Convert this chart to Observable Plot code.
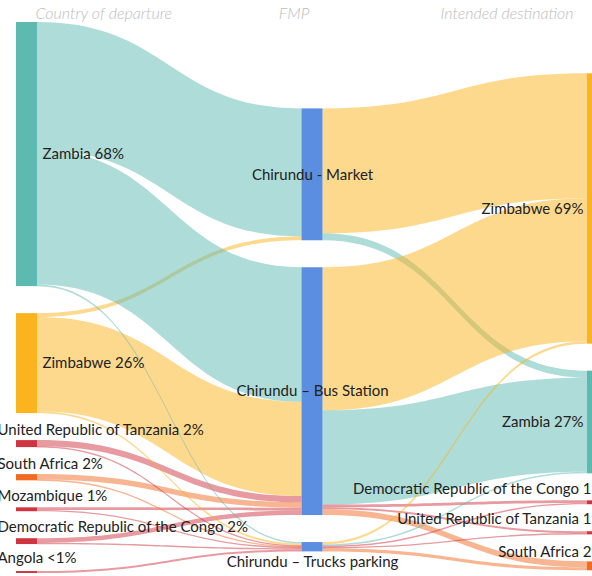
<!DOCTYPE html>
<html>
<head>
<meta charset="utf-8">
<script src="https://cdn.jsdelivr.net/npm/d3@7"></script>
<script src="https://cdn.jsdelivr.net/npm/@observablehq/plot@0.6"></script>
<style>
  html, body { margin: 0; padding: 0; background: #fff; }
  #chart { width: 592px; height: 576px; overflow: hidden; }
</style>
</head>
<body>
<div id="chart"></div>
<script>
// ---------- DATA ----------
const columnTitles = ["Country of departure", "FMP", "Intended destination"];

const departure = ["Zambia", "Zimbabwe", "United Republic of Tanzania", "South Africa", "Mozambique", "Democratic Republic of the Congo", "Angola"];
const departureLabels = ["Zambia 68%", "Zimbabwe 26%", "United Republic of Tanzania 2%", "South Africa 2%", "Mozambique 1%", "Democratic Republic of the Congo 2%", "Angola <1%"];

const fmp = ["Chirundu - Market", "Chirundu – Bus Station", "Chirundu – Trucks parking"];

const destination = ["Zimbabwe", "Zambia", "Democratic Republic of the Congo", "United Republic of Tanzania", "South Africa"];
const destinationLabels = ["Zimbabwe 69%", "Zambia 27%", "Democratic Republic of the Congo 1%", "United Republic of Tanzania 1%", "South Africa 2%"];

// flows (% of respondents) from each country of departure to each FMP
const toMarket = [32.9, 1.0, 0, 0, 0, 0, 0];
const toBusStation = [34.6, 24.2, 1.6, 1.4, 0.7, 1.2, 0];
const toTrucksParking = [0.4, 0.5, 0.2, 0.2, 0.3, 0.3, 0.5];

// flows (%) from each FMP to each intended destination
const fromMarket = [32.1, 1.8, 0, 0, 0];
const fromBusStation = [36.8, 24.2, 0.7, 0.5, 1.5];
const fromTrucksParking = [0.6, 0.4, 0.3, 0.3, 0.8];

// ---------- STYLE ----------
const countries = ["Zambia", "Zimbabwe", "United Republic of Tanzania", "South Africa", "Mozambique", "Democratic Republic of the Congo", "Angola"];
const countryColors = ["#5dbab1", "#fbb41d", "#cf3540", "#f26b23", "#cf3540", "#cf3540", "#cf3540"];
const fmpColor = "#5b8ee0";
const W = 592, H = 576;
const ext = {x0: 16, x1: 608, y0: 22, y1: 573, nodeWidth: 21, padding: 27};
const columnAlign = [0, 0.8, 0.95]; // share of a column's free space placed above it
const minRibbon = 1.4;               // thinnest ribbon drawn, px

// ---------- BUILD GRAPH ----------
const nodes = [];
departure.forEach((n, i) => nodes.push({id: "d" + i, name: n, label: departureLabels[i], layer: 0, country: n}));
fmp.forEach((n, i) => nodes.push({id: "f" + i, name: n, label: n, layer: 1, country: null}));
destination.forEach((n, i) => nodes.push({id: "t" + i, name: n, label: destinationLabels[i], layer: 2, country: n}));
const byId = new Map(nodes.map(n => [n.id, n]));

const links = [];
[toMarket, toBusStation, toTrucksParking].forEach((arr, j) =>
  arr.forEach((v, i) => { if (v > 0) links.push({source: byId.get("d" + i), target: byId.get("f" + j), value: v, country: departure[i]}); }));
[fromMarket, fromBusStation, fromTrucksParking].forEach((arr, j) =>
  arr.forEach((v, i) => { if (v > 0) links.push({source: byId.get("f" + j), target: byId.get("t" + i), value: v, country: destination[i]}); }));
links.forEach((l, i) => l.id = i);

// ---------- SANKEY LAYOUT ----------
function layout(nodes, links, {x0, x1, y0, y1, nodeWidth, padding}, align) {
  for (const n of nodes) { n.sourceLinks = []; n.targetLinks = []; }
  for (const l of links) { l.source.sourceLinks.push(l); l.target.targetLinks.push(l); }
  for (const n of nodes) n.value = Math.max(d3.sum(n.sourceLinks, l => l.value), d3.sum(n.targetLinks, l => l.value));
  const nLayers = d3.max(nodes, n => n.layer) + 1;
  const kx = (x1 - x0 - nodeWidth) / (nLayers - 1);
  const columns = d3.range(nLayers).map(() => []);
  for (const n of nodes) { n.x0 = x0 + n.layer * kx; n.x1 = n.x0 + nodeWidth; columns[n.layer].push(n); }
  const ky = d3.min(columns, c => (y1 - y0 - (c.length - 1) * padding) / d3.sum(c, n => n.value));
  columns.forEach((col, k) => {
    const used = d3.sum(col, n => n.value) * ky + (col.length - 1) * padding;
    let y = y0 + (y1 - y0 - used) * align[k];
    for (const n of col) { n.y0 = y; n.y1 = y + n.value * ky; y = n.y1 + padding; }
  });
  for (const l of links) l.width = l.value * ky;
  for (const n of nodes) {
    n.sourceLinks.sort((a, b) => a.target.y0 - b.target.y0);
    n.targetLinks.sort((a, b) => a.source.y0 - b.source.y0);
    let a = n.y0, b = n.y0;
    for (const l of n.sourceLinks) { l.y0 = a + l.width / 2; a += l.width; }
    for (const l of n.targetLinks) { l.y1 = b + l.width / 2; b += l.width; }
  }
}
layout(nodes, links, ext, columnAlign);

// ribbon table: two ends per link, filled between top and bottom edge
const ribbons = links.flatMap(l => {
  const h = Math.max(minRibbon, l.width) / 2;
  return [
    {id: l.id, country: l.country, x: l.source.x1, top: l.y0 - h, bottom: l.y0 + h},
    {id: l.id, country: l.country, x: l.target.x0, top: l.y1 - h, bottom: l.y1 + h}
  ];
});

// label placement derived from layout
for (const n of nodes) {
  const h = n.y1 - n.y0, small = h < 15, cy = (n.y0 + n.y1) / 2;
  if (n.layer === 0) { n.anchor = "start"; n.lx = small ? n.x0 - 19 : n.x1 + 5; n.ly = small ? cy - 14 : cy; }
  else if (n.layer === 1) { n.anchor = "middle"; n.lx = (n.x0 + n.x1) / 2; n.ly = small ? cy + 15 : cy; }
  else { n.anchor = "end"; n.lx = small ? n.x0 + 16 : n.x0 - 4; n.ly = small ? cy - 14 : cy; }
}
const cols = [0, 1, 2].map(k => nodes.find(n => n.layer === k));
const titles = columnTitles.map((t, k) => ({
  text: t,
  x: k === 0 ? cols[0].x1 - 2 : k === 1 ? cols[1].x0 - 8 : cols[2].x0 - 14,
  anchor: k === 0 ? "start" : k === 1 ? "middle" : "end"
}));

const font = "Lato, 'Open Sans', sans-serif";
const chart = Plot.plot({
  width: W, height: H, margin: 0,
  x: {type: "identity", axis: null},
  y: {type: "identity", axis: null},
  color: {domain: countries, range: countryColors},
  style: {fontFamily: font, background: "#fff", overflow: "visible"},
  marks: [
    Plot.area(ribbons, {
      x1: "x", y1: "top", y2: "bottom", z: "id",
      fill: "country", fillOpacity: 0.5, curve: "bump-x"
    }),
    Plot.rect(nodes.filter(n => n.country), {x1: "x0", x2: "x1", y1: "y0", y2: "y1", fill: "country"}),
    Plot.rect(nodes.filter(n => !n.country), {x1: "x0", x2: "x1", y1: "y0", y2: "y1", fill: fmpColor}),
    ...["start", "middle", "end"].map(a => Plot.text(nodes.filter(n => n.anchor === a), {
      x: "lx", y: "ly", text: "label", textAnchor: a, fontSize: 15, fill: "#222", fontFamily: font
    })),
    ...["start", "middle", "end"].map(a => Plot.text(titles.filter(t => t.anchor === a), {
      x: "x", y: () => 13, text: "text", textAnchor: a, fontSize: 16, fill: "#bdbdbd", fontStyle: "italic", fontWeight: 300, fontFamily: font
    }))
  ]
});
document.getElementById("chart").appendChild(chart);
</script>
</body>
</html>
